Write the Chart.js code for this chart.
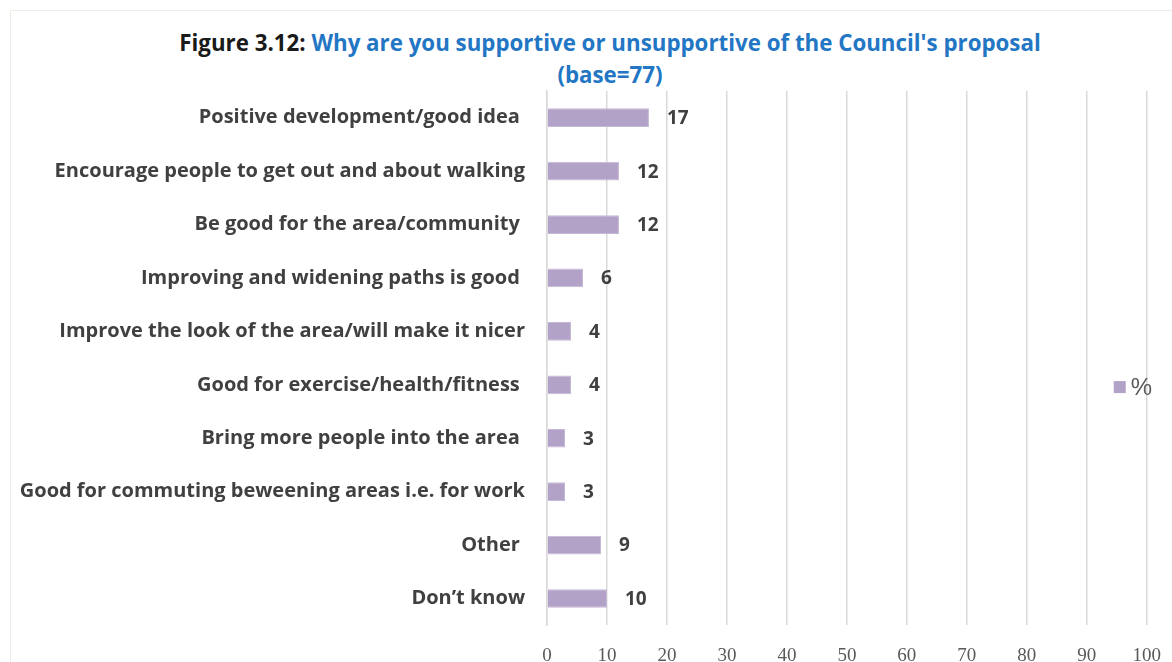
<!DOCTYPE html>
<html lang="en">
<head>
    <meta charset="UTF-8">
    <title>Figure 3.12</title>
    <script src="https://cdn.jsdelivr.net/npm/chart.js"></script>
    <style>
        html, body { margin: 0; padding: 0; background: #fff; overflow: hidden; }
        #frame {
            position: absolute; left: 10px; top: 10px; width: 1200px; height: 700px;
            border: 1px solid #ecece4; box-sizing: border-box;
        }
        #title {
            position: absolute; left: 0; top: 27px; width: 1220px;
            text-align: center; font-family: "Open Sans", sans-serif; font-weight: bold;
            font-size: 22.3px; line-height: 32px; color: #1a1a1a;
        }
        #title .q { color: #2276c4; }
        /* canvas runs a little past the window so the plot ends near the right edge */
        #wrap { position: absolute; left: 0; top: 0; width: 1180px; height: 686px; }
    </style>
</head>
<body>
<div id="frame"></div>
<div id="title">Figure 3.12: <span class="q">Why are you supportive or unsupportive of the Council's proposal<br>(base=77)</span></div>
<div id="wrap"><canvas id="chart"></canvas></div>

<script>
    const reasons = [
        'Positive development/good idea ',
        'Encourage people to get out and about walking',
        'Be good for the area/community ',
        'Improving and widening paths is good ',
        'Improve the look of the area/will make it nicer',
        'Good for exercise/health/fitness ',
        'Bring more people into the area ',
        'Good for commuting beweening areas i.e. for work',
        'Other ',
        'Don\u2019t know'
    ];
    const percents = [17, 12, 12, 6, 4, 4, 3, 3, 9, 10];
    const xTicks = [0, 10, 20, 30, 40, 50, 60, 70, 80, 90, 100];

    // value printed just past the end of each bar
    const barValues = {
        id: 'barValues',
        afterDatasetsDraw(chart) {
            const ctx = chart.ctx;
            const meta = chart.getDatasetMeta(0);
            ctx.save();
            ctx.font = 'bold 19px "Open Sans", sans-serif';
            ctx.fillStyle = '#404040';
            ctx.textBaseline = 'middle';
            meta.data.forEach((bar, i) => {
                ctx.fillText(String(chart.data.datasets[0].data[i]), bar.x + 18, bar.y + 1);
            });
            ctx.restore();
        }
    };

    // legend sits inside the plot, on the right, vertically centred
    const sideLegend = {
        id: 'sideLegend',
        afterDraw(chart) {
            const ctx = chart.ctx;
            const ds = chart.data.datasets[0];
            const area = chart.chartArea;
            const y = (area.top + area.bottom) / 2 + 29;
            const x = area.right - 33;
            ctx.save();
            ctx.fillStyle = ds.backgroundColor;
            ctx.fillRect(x, y - 6, 12, 12);
            ctx.font = '24px "Liberation Sans", sans-serif';
            ctx.fillStyle = '#595959';
            ctx.textBaseline = 'middle';
            ctx.fillText(ds.label, x + 17, y + 1);
            ctx.restore();
        }
    };

    new Chart(document.getElementById('chart'), {
        type: 'bar',
        data: {
            labels: reasons,
            datasets: [{
                label: '%',
                data: percents,
                backgroundColor: '#b3a2c7',
                borderColor: '#c5b8d6',
                borderWidth: 1,
                categoryPercentage: 1,
                barPercentage: 0.35
            }]
        },
        options: {
            indexAxis: 'y',
            responsive: true,
            maintainAspectRatio: false,
            animation: false,
            layout: { padding: { top: 91, right: 0, left: 0, bottom: 0 } },
            plugins: {
                legend: { display: false },
                tooltip: { enabled: false }
            },
            scales: {
                x: {
                    min: 0,
                    max: 100,
                    afterBuildTicks(axis) { axis.ticks = xTicks.map(v => ({ value: v })); },
                    grid: { color: '#d9d9d9', lineWidth: 1.5, drawTicks: false },
                    border: { display: false },
                    ticks: {
                        padding: 19,
                        color: '#595959',
                        font: { family: 'Liberation Serif', size: 19 }
                    }
                },
                y: {
                    afterFit(axis) { axis.width = 547; },
                    grid: { display: false, drawTicks: false },
                    border: { color: '#d9d9d9', width: 1.5 },
                    ticks: {
                        padding: 22,
                        color: '#404040',
                        font: { family: 'Open Sans', size: 20, weight: 'bold' }
                    }
                }
            }
        },
        plugins: [barValues, sideLegend]
    });
</script>
</body>
</html>
